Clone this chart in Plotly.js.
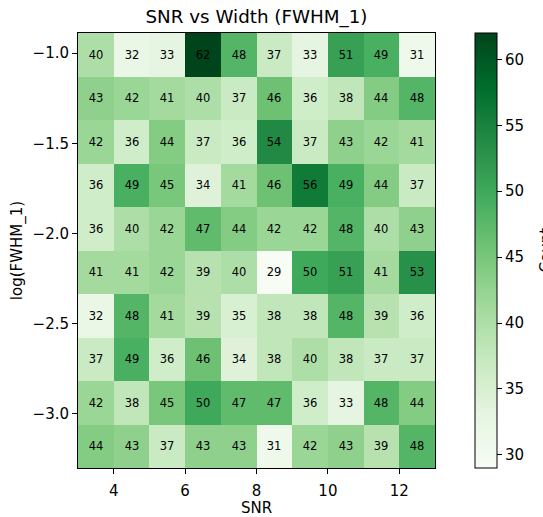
<!DOCTYPE html>
<html>
<head>
<meta charset="utf-8">
<script src="https://cdn.plot.ly/plotly-3.0.1.min.js"></script>
<style>
  html, body { margin: 0; padding: 0; background: #fff; }
  #chart { width: 543px; height: 517px; }
</style>
</head>
<body>
<div id="chart"></div>
<script>
// SNR bin edges (one unit wide)
const snrEdges = [3, 4, 5, 6, 7, 8, 9, 10, 11, 12, 13];
// log10(FWHM_1) bin edges, bottom to top
const logWidthEdges = [-3.301, -3.060, -2.818, -2.577, -2.336, -2.094, -1.853, -1.612, -1.371, -1.129, -0.888];

// Counts per cell, one row per width bin, listed from the lowest bin up
const counts = [
  [44, 43, 37, 43, 43, 31, 42, 43, 39, 48],
  [42, 38, 45, 50, 47, 47, 36, 33, 48, 44],
  [37, 49, 36, 46, 34, 38, 40, 38, 37, 37],
  [32, 48, 41, 39, 35, 38, 38, 48, 39, 36],
  [41, 41, 42, 39, 40, 29, 50, 51, 41, 53],
  [36, 40, 42, 47, 44, 42, 42, 48, 40, 43],
  [36, 49, 45, 34, 41, 46, 56, 49, 44, 37],
  [42, 36, 44, 37, 36, 54, 37, 43, 42, 41],
  [43, 42, 41, 40, 37, 46, 36, 38, 44, 48],
  [40, 32, 33, 62, 48, 37, 33, 51, 49, 31]
];

const xTickVals = [4, 6, 8, 10, 12];
const xTickText = ['4', '6', '8', '10', '12'];
const yTickVals = [-1.0, -1.5, -2.0, -2.5, -3.0];
const yTickText = ['\u22121.0', '\u22121.5', '\u22122.0', '\u22122.5', '\u22123.0'];
const cbTickVals = [30, 35, 40, 45, 50, 55, 60];

// Sequential green scale
const greens = [
  [0.000, '#f7fcf5'],
  [0.125, '#e5f5e0'],
  [0.250, '#c7e9c0'],
  [0.375, '#a1d99b'],
  [0.500, '#74c476'],
  [0.625, '#41ab5d'],
  [0.750, '#238b45'],
  [0.875, '#006d2c'],
  [1.000, '#00441b']
];

const FONT = 'DejaVu Sans, sans-serif';
const W = 543, H = 517;

const trace = {
  type: 'heatmap',
  x: snrEdges,
  y: logWidthEdges,
  z: counts,
  colorscale: greens,
  texttemplate: '%{z}',
  textfont: { family: FONT, size: 11.5, color: '#000' },
  hoverinfo: 'skip',
  colorbar: {
    xref: 'container', x: 475 / W, xanchor: 'left',
    yref: 'paper', y: 0.5, yanchor: 'middle', len: 1, lenmode: 'fraction',
    thickness: 22, thicknessmode: 'pixels',
    outlinecolor: '#000', outlinewidth: 1,
    xpad: 0, ypad: 0,
    tickmode: 'array', tickvals: cbTickVals,
    ticks: 'outside', ticklen: 5, tickwidth: 1, tickcolor: '#000',
    tickfont: { family: FONT, size: 15, color: '#000' }
  }
};

const layout = {
  width: W, height: H,
  margin: { l: 78, r: 108, t: 33, b: 49 },
  paper_bgcolor: '#fff', plot_bgcolor: '#fff',
  font: { family: FONT, color: '#000' },
  title: {
    text: 'SNR vs Width (FWHM_1)',
    font: { family: FONT, size: 18.3, color: '#000' },
    x: 0.5, xref: 'paper', xanchor: 'center',
    y: 1 - 17 / H, yref: 'container', yanchor: 'middle'
  },
  xaxis: {
    range: [3, 13], autorange: false,
    tickmode: 'array', tickvals: xTickVals, ticktext: xTickText,
    ticks: 'outside', ticklen: 5, tickwidth: 1, tickcolor: '#000',
    ticklabelstandoff: 4,
    tickfont: { family: FONT, size: 15, color: '#000' },
    showline: true, linecolor: '#000', linewidth: 1, mirror: true,
    showgrid: false, zeroline: false,
    title: { text: 'SNR', font: { family: FONT, size: 15, color: '#000' }, standoff: 8 }
  },
  yaxis: {
    range: [-3.301, -0.888], autorange: false,
    tickmode: 'array', tickvals: yTickVals, ticktext: yTickText,
    ticks: 'outside', ticklen: 5, tickwidth: 1, tickcolor: '#000',
    tickfont: { family: FONT, size: 15, color: '#000' },
    showline: true, linecolor: '#000', linewidth: 1, mirror: true,
    showgrid: false, zeroline: false,
    title: { text: 'log(FWHM_1)', font: { family: FONT, size: 15, color: '#000' }, standoff: 6 }
  },
  annotations: [{
    text: 'Count',
    xref: 'paper', x: (534 - 78) / (W - 78 - 108), xanchor: 'left',
    yref: 'paper', y: 0.5, yanchor: 'middle',
    textangle: -90, showarrow: false,
    font: { family: FONT, size: 15, color: '#000' }
  }]
};

Plotly.newPlot('chart', [trace], layout, { displayModeBar: false, staticPlot: true });
</script>
</body>
</html>
